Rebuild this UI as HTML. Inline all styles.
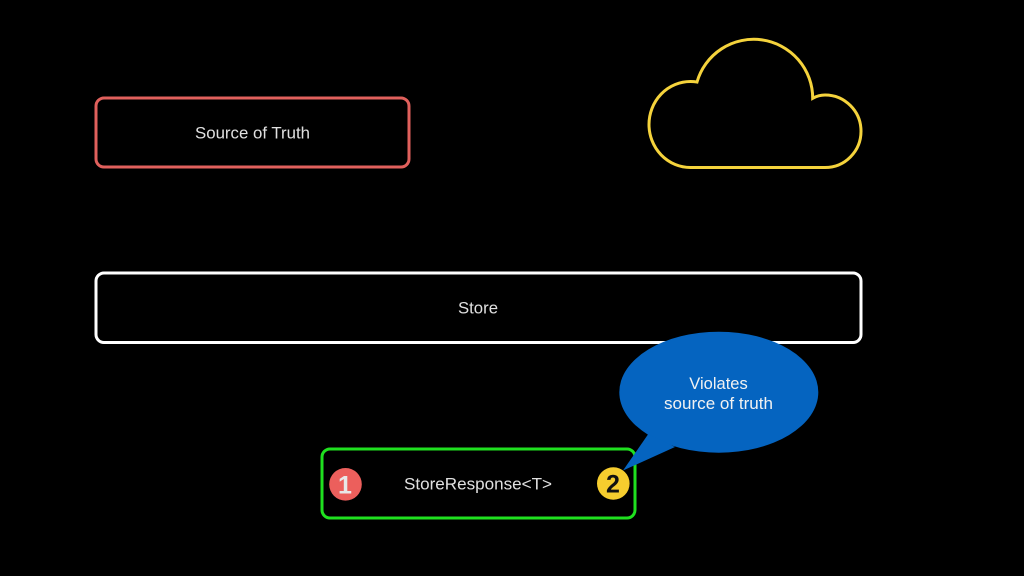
<!DOCTYPE html>
<html>
<head>
<meta charset="utf-8">
<style>
html,body{margin:0;padding:0;background:#000;width:1024px;height:576px;overflow:hidden}
svg{display:block}
text{font-family:"Liberation Sans",sans-serif}
</style>
</head>
<body>
<svg width="1024" height="576" viewBox="0 0 1024 576" xmlns="http://www.w3.org/2000/svg">
<rect width="1024" height="576" fill="#000"/>
<rect x="96" y="98" width="313" height="69" rx="8" fill="none" stroke="#e0605c" stroke-width="3"/>
<text x="195" y="138.500" font-size="16.500" fill="#e0e0e0" textLength="115" lengthAdjust="spacingAndGlyphs">Source of Truth</text>
<path d="M690.500 167.500 A41.500 43 0 0 1 690.500 81.500 Q694 81.500 697 82 A59 59 0 0 1 812.700 98.300 Q818.500 95 825 95 A36 36.250 0 0 1 825 167.500 Z" fill="none" stroke="#f5d33c" stroke-width="3" stroke-linejoin="miter"/>
<rect x="96" y="273" width="765" height="69.500" rx="8" fill="none" stroke="#fff" stroke-width="3"/>
<text x="458" y="313.500" font-size="16.500" fill="#e0e0e0" textLength="40" lengthAdjust="spacingAndGlyphs">Store</text>
<rect x="322" y="449" width="313" height="69" rx="8" fill="none" stroke="#1fe01f" stroke-width="3"/>
<text x="404" y="489.500" font-size="16.500" fill="#e0e0e0" textLength="148" lengthAdjust="spacingAndGlyphs">StoreResponse&lt;T&gt;</text>
<circle cx="345.500" cy="484.300" r="16.300" fill="#ec5f5c"/>
<text x="345" y="493.500" font-size="25" font-weight="700" fill="#e8e8e8" text-anchor="middle">1</text>
<circle cx="613.300" cy="483.500" r="16.300" fill="#f6cd2e"/>
<text x="613" y="492.500" font-size="25" font-weight="700" fill="#111" text-anchor="middle">2</text>
<ellipse cx="718.800" cy="392.200" rx="99.500" ry="60.500" fill="#0564c0"/>
<polygon points="623,470.500 648.300,434 675,447" fill="#0564c0"/>
<text x="718.500" y="389" font-size="16.500" fill="#f2f2f2" text-anchor="middle">Violates</text>
<text x="718.500" y="409" font-size="16.500" fill="#f2f2f2" text-anchor="middle" textLength="109" lengthAdjust="spacingAndGlyphs">source of truth</text>
</svg>
</body>
</html>
